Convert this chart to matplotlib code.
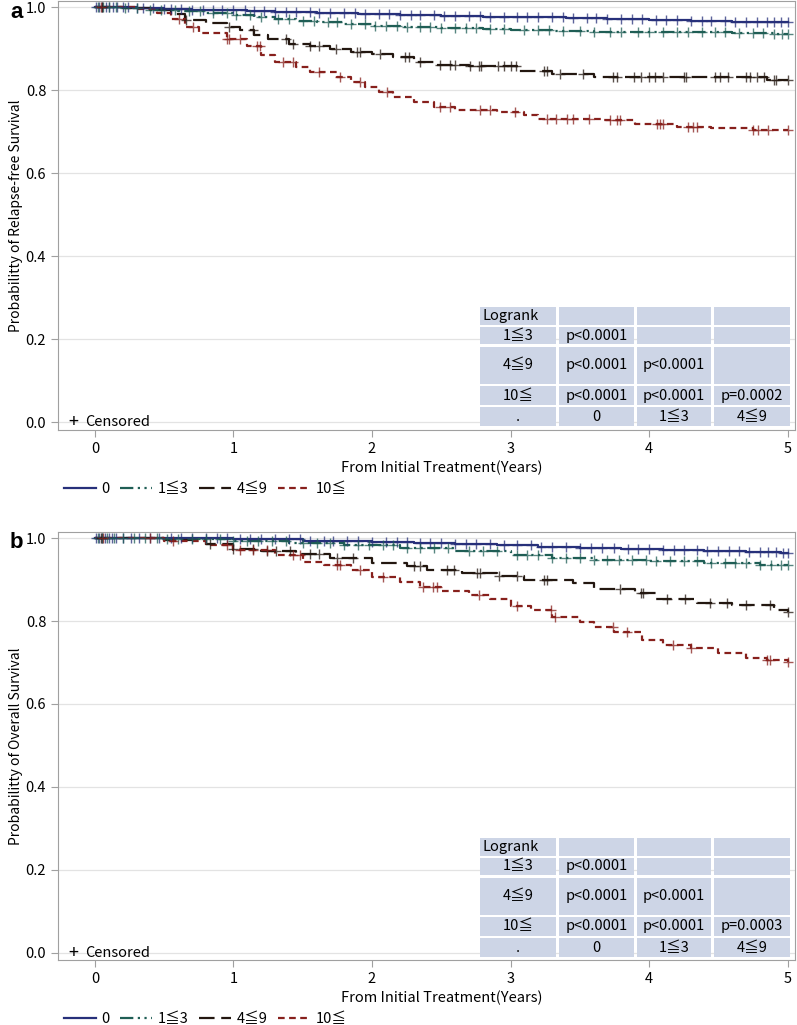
import matplotlib
matplotlib.use("Agg")
import matplotlib.pyplot as plt
from matplotlib.lines import Line2D
from matplotlib.patches import Rectangle
import numpy as np

plt.rcParams['font.family'] = ['Noto Sans CJK JP', 'DejaVu Sans']

# ------------------------------
# DATA
# ------------------------------
GROUPS = ["0", "1≦3", "4≦9", "10≦"]

# panel a : relapse-free survival, step curves (time, survival after step)
rfs_t_0 = [0, 0.3, 0.5, 0.7, 0.9, 1.1, 1.3, 1.6, 1.9, 2.2, 2.5, 2.8, 3.1, 3.4, 3.7, 4.0, 4.3, 4.6, 4.9, 5.0]
rfs_s_0 = [1.0, 0.998, 0.996, 0.994, 0.992, 0.99, 0.988, 0.986, 0.983, 0.981, 0.979, 0.977, 0.975, 0.973, 0.971, 0.969, 0.967, 0.965, 0.963, 0.963]
rfs_t_1 = [0, 0.2, 0.4, 0.6, 0.8, 1.0, 1.15, 1.3, 1.45, 1.6, 1.8, 2.0, 2.2, 2.5, 2.8, 3.0, 3.3, 3.6, 3.9, 4.2, 4.6, 4.9, 5.0]
rfs_s_1 = [1.0, 0.997, 0.994, 0.99, 0.986, 0.981, 0.976, 0.971, 0.967, 0.963, 0.959, 0.955, 0.952, 0.949, 0.946, 0.944, 0.942, 0.941, 0.94, 0.939, 0.937, 0.935, 0.935]
rfs_t_2 = [0, 0.2, 0.4, 0.55, 0.65, 0.8, 0.95, 1.05, 1.15, 1.25, 1.4, 1.55, 1.7, 1.85, 2.0, 2.15, 2.3, 2.45, 2.7, 3.05, 3.3, 3.6, 4.85, 5.0]
rfs_s_2 = [1.0, 0.997, 0.992, 0.984, 0.968, 0.962, 0.953, 0.944, 0.932, 0.922, 0.912, 0.905, 0.898, 0.892, 0.888, 0.88, 0.868, 0.861, 0.858, 0.845, 0.838, 0.832, 0.825, 0.825]
rfs_t_3 = [0, 0.3, 0.45, 0.55, 0.65, 0.75, 0.95, 1.1, 1.2, 1.3, 1.45, 1.55, 1.75, 1.85, 1.95, 2.05, 2.15, 2.3, 2.45, 2.6, 2.9, 3.1, 3.2, 3.65, 3.9, 4.2, 4.45, 4.75, 5.0]
rfs_s_3 = [1.0, 0.995, 0.985, 0.972, 0.952, 0.937, 0.922, 0.905, 0.885, 0.868, 0.856, 0.843, 0.832, 0.82, 0.807, 0.795, 0.783, 0.77, 0.758, 0.753, 0.748, 0.741, 0.731, 0.727, 0.717, 0.711, 0.709, 0.704, 0.704]

# censoring times, panel a
rfs_c_0 = [0.01, 0.03, 0.05, 0.08, 0.1, 0.13, 0.16, 0.2, 0.24, 0.3, 0.35, 0.42, 0.5, 0.55, 0.62, 0.7, 0.78, 0.85,
           0.92, 1.0, 1.08, 1.15, 1.22, 1.3, 1.38, 1.45, 1.55, 1.62, 1.7, 1.8, 1.88, 1.95, 2.05, 2.12, 2.2, 2.28,
           2.35, 2.45, 2.52, 2.6, 2.7, 2.78, 2.85, 2.95, 3.05, 3.12, 3.2, 3.3, 3.38, 3.45, 3.55, 3.62, 3.7, 3.8,
           3.88, 3.95, 4.05, 4.12, 4.2, 4.3, 4.38, 4.45, 4.55, 4.62, 4.7, 4.78, 4.85, 4.9, 4.95, 5.0]
rfs_c_1 = [0.02, 0.06, 0.1, 0.15, 0.22, 0.3, 0.4, 0.48, 0.58, 0.68, 0.76, 0.85, 0.95, 1.02, 1.12, 1.2, 1.32, 1.4,
           1.5, 1.58, 1.68, 1.75, 1.85, 1.95, 2.02, 2.1, 2.18, 2.25, 2.35, 2.42, 2.5, 2.6, 2.68, 2.75, 2.85, 2.95,
           3.1, 3.2, 3.28, 3.38, 3.5, 3.6, 3.72, 3.8, 3.92, 4.0, 4.1, 4.2, 4.28, 4.38, 4.48, 4.55, 4.65, 4.75,
           4.82, 4.9, 4.96, 5.0]
rfs_c_2 = [0.05, 0.66, 0.97, 1.14, 1.38, 1.43, 1.55, 1.62, 1.74, 1.89, 1.91, 2.06, 2.24, 2.27, 2.35, 2.49, 2.56,
           2.6, 2.71, 2.77, 2.79, 2.91, 2.95, 3.0, 3.04, 3.24, 3.26, 3.36, 3.52, 3.74, 3.77, 3.89, 3.94, 4.0, 4.04,
           4.1, 4.25, 4.27, 4.48, 4.51, 4.57, 4.7, 4.73, 4.78, 4.83, 4.9, 4.92, 5.0]
rfs_c_3 = [0.04, 0.61, 0.71, 0.95, 0.97, 1.05, 1.17, 1.19, 1.36, 1.43, 1.62, 1.77, 1.91, 2.11, 2.49, 2.56, 2.78,
           2.85, 3.03, 3.26, 3.33, 3.41, 3.45, 3.57, 3.72, 3.77, 3.79, 4.06, 4.08, 4.1, 4.28, 4.32, 4.35, 4.75,
           4.79, 4.86, 5.0]

# panel b : overall survival
os_t_0 = [0, 0.5, 1.0, 1.5, 2.0, 2.3, 2.6, 2.9, 3.2, 3.5, 3.8, 4.1, 4.4, 4.7, 4.95, 5.0]
os_s_0 = [1.0, 0.999, 0.997, 0.994, 0.991, 0.988, 0.985, 0.982, 0.979, 0.976, 0.973, 0.97, 0.968, 0.966, 0.963, 0.963]
os_t_1 = [0, 0.5, 1.0, 1.4, 1.8, 2.2, 2.6, 3.0, 3.3, 3.6, 4.0, 4.4, 4.8, 5.0]
os_s_1 = [1.0, 0.998, 0.993, 0.988, 0.982, 0.976, 0.968, 0.96, 0.953, 0.948, 0.944, 0.94, 0.934, 0.934]
os_t_2 = [0, 0.5, 0.8, 1.0, 1.2, 1.45, 1.7, 2.0, 2.25, 2.4, 2.65, 2.9, 3.1, 3.45, 3.6, 3.9, 4.05, 4.35, 4.6, 4.9, 5.0]
os_s_2 = [1.0, 0.995, 0.985, 0.974, 0.968, 0.962, 0.952, 0.94, 0.932, 0.922, 0.915, 0.908, 0.898, 0.892, 0.876, 0.868, 0.853, 0.843, 0.838, 0.826, 0.822]
os_t_3 = [0, 0.5, 0.8, 1.0, 1.3, 1.5, 1.65, 1.85, 2.0, 2.2, 2.35, 2.5, 2.7, 2.85, 3.0, 3.15, 3.3, 3.5, 3.6, 3.75, 3.95, 4.1, 4.3, 4.5, 4.7, 4.85, 5.0]
os_s_3 = [1.0, 0.992, 0.982, 0.972, 0.959, 0.943, 0.935, 0.923, 0.905, 0.894, 0.883, 0.873, 0.862, 0.853, 0.836, 0.826, 0.81, 0.798, 0.786, 0.773, 0.754, 0.742, 0.735, 0.722, 0.712, 0.705, 0.702]

os_c_0 = [0.01, 0.03, 0.05, 0.07, 0.1, 0.12, 0.15, 0.2, 0.26, 0.32, 0.4, 0.46, 0.55, 0.62, 0.7, 0.8, 0.88, 0.95,
          1.05, 1.12, 1.2, 1.3, 1.4, 1.48, 1.55, 1.65, 1.72, 1.82, 1.9, 2.0, 2.1, 2.18, 2.25, 2.35, 2.42, 2.5,
          2.6, 2.68, 2.75, 2.85, 2.95, 3.05, 3.15, 3.22, 3.3, 3.4, 3.5, 3.58, 3.66, 3.75, 3.85, 3.92, 4.0, 4.1,
          4.18, 4.25, 4.35, 4.42, 4.5, 4.58, 4.65, 4.72, 4.8, 4.86, 4.92, 4.97, 5.0]
os_c_1 = [0.02, 0.05, 0.09, 0.14, 0.2, 0.28, 0.36, 0.45, 0.52, 0.6, 0.7, 0.8, 0.9, 1.0, 1.1, 1.18, 1.28, 1.38, 1.5,
          1.6, 1.7, 1.8, 1.9, 1.98, 2.08, 2.15, 2.25, 2.35, 2.45, 2.55, 2.7, 2.8, 2.9, 3.05, 3.12, 3.2, 3.3,
          3.4, 3.5, 3.6, 3.7, 3.78, 3.88, 3.98, 4.05, 4.15, 4.25, 4.35, 4.45, 4.55, 4.62, 4.7, 4.8, 4.88, 4.95, 5.0]
os_c_2 = [0.04, 0.83, 1.0, 1.14, 1.24, 1.31, 1.41, 1.55, 1.62, 1.75, 1.86, 2.3, 2.35, 2.54, 2.59, 2.76, 2.78, 2.92,
          3.05, 3.24, 3.26, 3.79, 3.94, 3.96, 4.13, 4.26, 4.44, 4.56, 4.7, 4.87, 5.0]
os_c_3 = [0.06, 0.4, 0.56, 0.95, 1.05, 1.14, 1.24, 1.43, 1.48, 1.75, 1.77, 1.91, 2.08, 2.37, 2.44, 2.47, 2.77, 3.05,
          3.29, 3.32, 3.74, 3.84, 4.17, 4.3, 4.85, 4.87, 5.0]

# log-rank table
table_rows = ["1≦3", "4≦9", "10≦"]
table_cols = ["0", "1≦3", "4≦9"]
rfs_pvals = [["p<0.0001", "", ""],
             ["p<0.0001", "p<0.0001", ""],
             ["p<0.0001", "p<0.0001", "p=0.0002"]]
os_pvals = [["p<0.0001", "", ""],
            ["p<0.0001", "p<0.0001", ""],
            ["p<0.0001", "p<0.0001", "p=0.0003"]]

# ------------------------------
# STYLE
# ------------------------------
COLORS = ["#27307a", "#1f5e55", "#231710", "#87201c"]
STYLES = ["-", (0, (6, 2, 1, 2, 1, 2)), (0, (7, 3)), (0, (3, 2))]
CELL = "#cdd5e6"
XMIN, XMAX = -0.267, 5.054

W, H = 797, 1025


def step_value(ts, ss, t):
    i = np.searchsorted(ts, t, side="right") - 1
    return ss[max(i, 0)]


def draw_table(ax, pvals):
    # cell layout in data coords
    cols = [(2.78, 3.33), (3.35, 3.89), (3.91, 4.45), (4.47, 5.02)]
    rows = [(0.277, 0.234), (0.229, 0.188), (0.181, 0.092), (0.087, 0.041), (0.036, -0.010)]
    grid = [["Logrank", "", "", ""]]
    for lab, pv in zip(table_rows, pvals):
        grid.append([lab] + pv)
    grid.append(["."] + table_cols)
    for r, (y0, y1) in enumerate(rows):
        for c, (x0, x1) in enumerate(cols):
            ax.add_patch(Rectangle((x0, y1), x1 - x0, y0 - y1, facecolor=CELL,
                                   edgecolor="none", zorder=5))
            txt = grid[r][c]
            if not txt:
                continue
            if r == 0 and c == 0:
                ax.text(x0 + 0.02, (y0 + y1) / 2, txt, ha="left", va="center",
                        fontsize=10.5, zorder=6)
            else:
                ax.text((x0 + x1) / 2, (y0 + y1) / 2, txt, ha="center", va="center",
                        fontsize=10.5, zorder=6)


def draw_panel(ax, curves, censors, ylabel, pvals, letter):
    for (ts, ss), cs, col, ls in zip(curves, censors, COLORS, STYLES):
        ax.plot(ts, ss, drawstyle="steps-post", color=col, linestyle=ls, lw=1.6, zorder=3)
        cy = [step_value(ts, ss, t) for t in cs]
        ax.plot(cs, cy, linestyle="none", marker="+", ms=7, mew=1.0,
                color=col, alpha=0.75, zorder=4)
    ax.set_xlim(XMIN, XMAX)
    ax.set_xticks([0, 1, 2, 3, 4, 5])
    ax.set_yticks([0.0, 0.2, 0.4, 0.6, 0.8, 1.0])
    ax.set_yticklabels(["0.0", "0.2", "0.4", "0.6", "0.8", "1.0"])
    ax.grid(axis="y", color="#e3e3e3", lw=0.9)
    ax.set_axisbelow(True)
    for sp in ax.spines.values():
        sp.set_color("#a0a0a0")
    ax.tick_params(colors="#a0a0a0", labelcolor="black", labelsize=10.5, length=5)
    ax.set_ylabel(ylabel, fontsize=10, labelpad=2)
    ax.set_xlabel("From Initial Treatment(Years)", fontsize=10.5)
    ax.xaxis.set_label_coords((2.5 - XMIN) / (XMAX - XMIN), -0.072)
    ax.text(-0.155, 0.0, "+", fontsize=13, va="center", ha="center", zorder=6)
    ax.text(-0.07, 0.0, "Censored", fontsize=10.5, va="center", ha="left", zorder=6)
    draw_table(ax, pvals)

    handles = [Line2D([], [], color=c, linestyle=s, lw=1.6) for c, s in zip(COLORS, STYLES)]
    ax.legend(handles, GROUPS, loc="upper left", bbox_to_anchor=(0.0, -0.108),
              ncol=4, frameon=False, fontsize=10.5, handlelength=2.2,
              handletextpad=0.4, columnspacing=0.7, borderaxespad=0)
    pos = ax.get_position()
    ax.figure.text(10 / W, pos.y1 - 11 / H, letter, fontsize=16, fontweight="bold",
                   family="Liberation Sans", va="center")


fig = plt.figure(figsize=(W / 100, H / 100), dpi=100)
ax_a = fig.add_axes([58 / W, 1 - 430 / H, 737 / W, 429 / H])
ax_a.set_ylim(-0.019, 1.0145)
ax_b = fig.add_axes([58 / W, 1 - 960 / H, 737 / W, 428 / H])
ax_b.set_ylim(-0.017, 1.0145)

draw_panel(ax_a,
           [(rfs_t_0, rfs_s_0), (rfs_t_1, rfs_s_1), (rfs_t_2, rfs_s_2), (rfs_t_3, rfs_s_3)],
           [rfs_c_0, rfs_c_1, rfs_c_2, rfs_c_3],
           "Probabilitty of Relapse-free Survival", rfs_pvals, "a")
draw_panel(ax_b,
           [(os_t_0, os_s_0), (os_t_1, os_s_1), (os_t_2, os_s_2), (os_t_3, os_s_3)],
           [os_c_0, os_c_1, os_c_2, os_c_3],
           "Probabilitty of Overall Survival", os_pvals, "b")

fig.savefig("out.png", dpi=100)
